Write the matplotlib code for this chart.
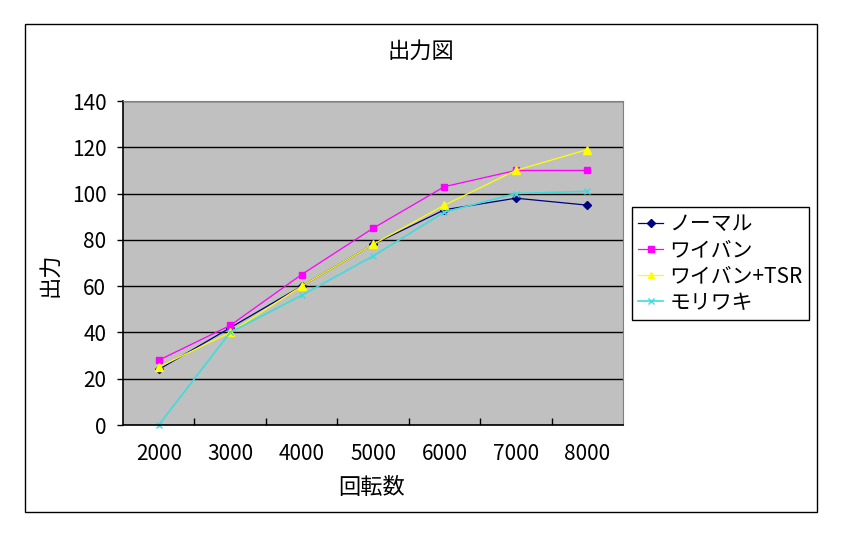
import numpy as np
import matplotlib
matplotlib.use('Agg')
import matplotlib.pyplot as plt
from matplotlib.patches import Rectangle

plt.rcParams['font.family'] = ['Noto Sans CJK JP', 'DejaVu Sans']

rpm = ['2000', '3000', '4000', '5000', '6000', '7000', '8000']
normal = [24, 42, 60, 78, 93, 98, 95]
wiban = [28, 43, 65, 85, 103, 110, 110]
wiban_tsr = [25, 40, 60, 78, 95, 110, 119]
moriwaki = [0, 40, 56, 73, 92, 100, 101]
yticks = [0, 20, 40, 60, 80, 100, 120, 140]

W, H = 847, 540
fig = plt.figure(figsize=(W / 100, H / 100), dpi=100)

# outer chart frame
fig.patches.append(Rectangle((25 / W, 1 - 512 / H), 792 / W, 488 / H,
                             transform=fig.transFigure, fill=False,
                             edgecolor='black', linewidth=1))

ax = fig.add_axes([123 / W, 1 - 425 / H, 500 / W, 324 / H])
ax.set_facecolor('#C0C0C0')

x = np.arange(len(rpm))
ax.plot(x, normal, color='#000080', marker='D', markersize=4, lw=0.9, label='ノーマル', clip_on=False)
ax.plot(x, wiban, color='#FF00FF', marker='s', markersize=5, lw=0.9, label='ワイバン', clip_on=False)
ax.plot(x, wiban_tsr, color='#FFFF00', marker='^', markersize=6, lw=0.9, label='ワイバン+TSR', clip_on=False)
ax.plot(x, moriwaki, color='#40DCDC', marker='x', markersize=4, lw=1.2, label='モリワキ', clip_on=False)

ax.set_xlim(-0.5, len(rpm) - 0.5)
ax.set_ylim(0, 140)
ax.set_yticks(yticks)
ax.set_yticklabels([str(v) for v in yticks], fontsize=15)
ax.yaxis.grid(True, color='black', linewidth=1)
ax.set_axisbelow(True)

ax.set_xticks(x)
ax.set_xticklabels(rpm, fontsize=15)
ax.set_xticks(np.arange(0.5, len(rpm) - 0.5), minor=True)
ax.tick_params(axis='x', which='major', length=0, pad=13)
ax.tick_params(axis='x', which='minor', direction='in', length=5, width=1)
ax.tick_params(axis='y', direction='out', length=4, width=1, pad=8)

for s in ['top', 'right']:
    ax.spines[s].set_color('#808080')
for s in ['left', 'bottom']:
    ax.spines[s].set_color('black')
    ax.spines[s].set_linewidth(1.2)

fig.text(421 / W, 1 - 51 / H, '出力図', fontsize=16, ha='center', va='center')
fig.text(372 / W, 1 - 488 / H, '回転数', fontsize=16, ha='center', va='center')
fig.text(50 / W, 1 - 275 / H, '出力', fontsize=16, ha='center', va='center', rotation=90)

leg = ax.legend(loc='upper left', bbox_to_anchor=(632 / W, 1 - 207 / H),
                bbox_transform=fig.transFigure, fontsize=15, frameon=True,
                fancybox=False, edgecolor='black', framealpha=1,
                handlelength=1.2, handletextpad=0.3, borderpad=0.3,
                labelspacing=0.2, borderaxespad=0)
leg.get_frame().set_linewidth(1)
for h in leg.legend_handles:
    h.set_markersize(4)

fig.savefig('out.png', dpi=100)
